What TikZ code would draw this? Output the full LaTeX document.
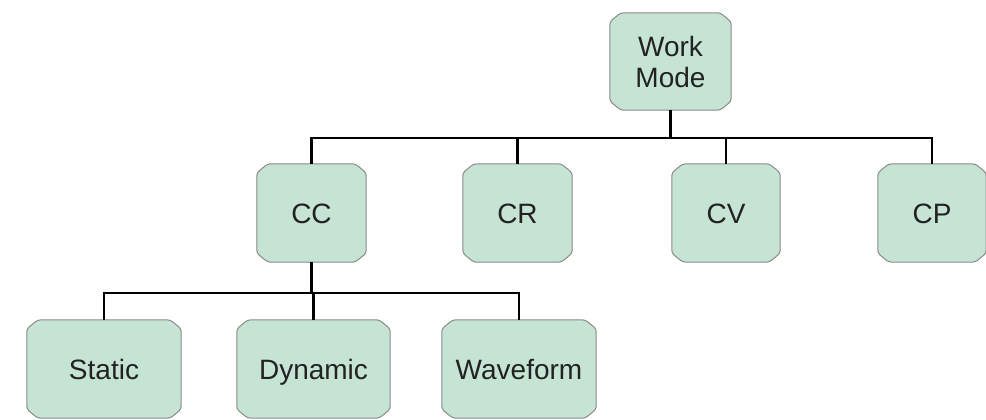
\documentclass[tikz,border=0pt]{standalone}
\usepackage{fontspec}
\setmainfont{Liberation Sans}
\usetikzlibrary{backgrounds}
\definecolor{boxfill}{HTML}{C6E4D3}
\definecolor{boxline}{HTML}{8A8A8A}
\definecolor{txt}{HTML}{222222}
\begin{document}
\begin{tikzpicture}[x=1pt,y=-1pt,
  modebox/.style={rectangle, inner sep=0pt, text=txt,
    font=\fontsize{28}{31}\selectfont, align=center},
  single/.style={text height=20pt, text depth=0pt},
  outline/.style={fill=boxfill, draw=boxline, line width=1pt, rounded corners=3pt},
  conn/.style={line width=2.5pt, black}]
\useasboundingbox (0,0) rectangle (986,420);
\node[modebox, minimum width=121pt, minimum height=97pt] (wm) at (670.5,61.5) {Work\\Mode};
\node[modebox, single, minimum width=109pt, minimum height=98pt] (cc) at (311.5,213) {CC};
\node[modebox, single, minimum width=109pt, minimum height=98pt] (cr) at (517.5,213) {CR};
\node[modebox, single, minimum width=108pt, minimum height=98pt] (cv) at (726,213) {CV};
\node[modebox, single, minimum width=108pt, minimum height=98pt] (cp) at (932,213) {CP};
\node[modebox, single, minimum width=154pt, minimum height=98pt] (st) at (104,369) {Static};
\node[modebox, single, minimum width=153pt, minimum height=98pt] (dy) at (313.5,369) {Dynamic};
\node[modebox, single, minimum width=154pt, minimum height=98pt] (wf) at (519,369) {Waveform};
\begin{scope}[on background layer]
\foreach \n in {wm,cc,cr,cv,cp,st,dy,wf}{
  \draw[outline] ([xshift=11pt]\n.north west) -- ([xshift=-11pt]\n.north east)
    -- ([yshift=-9pt]\n.north east) -- ([yshift=9pt]\n.south east)
    -- ([xshift=-11pt]\n.south east) -- ([xshift=11pt]\n.south west)
    -- ([yshift=9pt]\n.south west) -- ([yshift=-9pt]\n.north west) -- cycle;
}
\end{scope}
\coordinate (bar1) at (0,138);
\coordinate (bar2) at (0,293);
\draw[conn] (wm.south) -- (wm.south |- bar1);
\draw[conn] (cc.north) -- (cc.north |- bar1) -- (cp.north |- bar1) -- (cp.north);
\draw[conn] (cr.north) -- (cr.north |- bar1);
\draw[conn] (cv.north) -- (cv.north |- bar1);
\draw[conn] (cc.south) -- (cc.south |- bar2);
\draw[conn] (st.north) -- (st.north |- bar2) -- (wf.north |- bar2) -- (wf.north);
\draw[conn] (dy.north) -- (dy.north |- bar2);
\end{tikzpicture}
\end{document}
